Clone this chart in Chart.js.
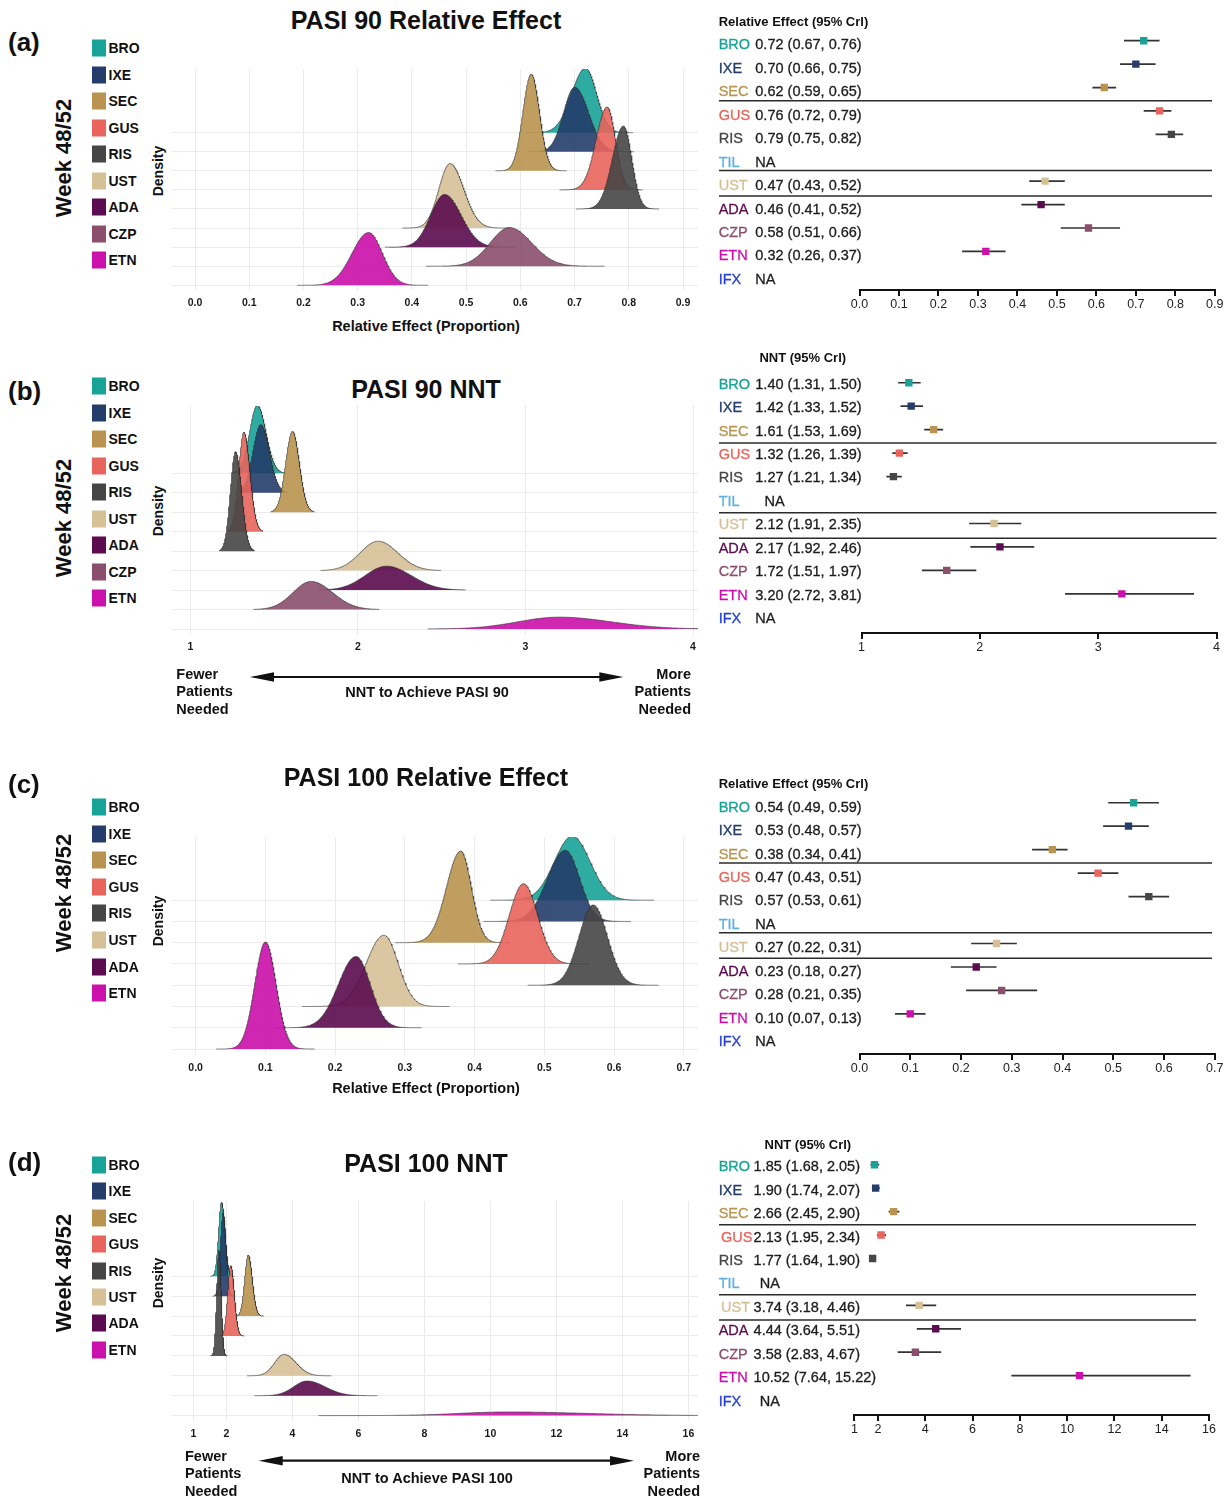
<!DOCTYPE html>
<html lang="en">
<head>
<meta charset="utf-8">
<title>PASI 90 / PASI 100 relative effect and NNT, week 48/52</title>
<script src="https://cdn.jsdelivr.net/npm/chart.js@4.4.1/dist/chart.umd.min.js"></script>
<style>
  html, body { margin: 0; padding: 0; background: #fff; }
  #fig { position: relative; width: 1232px; height: 1499px; overflow: hidden; background: #fff;
         font-family: "Liberation Sans", Arial, Helvetica, sans-serif; color: #111; }
  #fig canvas { position: absolute; }
  .txt { position: absolute; white-space: nowrap; line-height: 1; }
  .mid { transform: translate(-50%, -50%); }
  .vmid { transform: translateY(-50%); }
  .rot { transform: translate(-50%, -50%) rotate(-90deg); }
  .bold { font-weight: bold; }
  .heavy { -webkit-text-stroke: 0.3px currentColor; }
  .swatch { position: absolute; width: 14px; height: 17px; transform: translateY(-50%); }
  .block { position: absolute; white-space: nowrap; font-weight: bold; font-size: 14.5px; line-height: 17.5px; }
</style>
</head>
<body>
<div id="fig"></div>
<script>
// ---------- data ----------
const drugs = ['BRO', 'IXE', 'SEC', 'GUS', 'RIS', 'TIL', 'UST', 'ADA', 'CZP', 'ETN', 'IFX'];

// PASI 90 at week 48/52 — relative effect (proportion): median, lower and upper 95% CrI
const re90Mid  = [0.72, 0.70, 0.62, 0.76, 0.79, null, 0.47, 0.46, 0.58, 0.32, null];
const re90Low  = [0.67, 0.66, 0.59, 0.72, 0.75, null, 0.43, 0.41, 0.51, 0.26, null];
const re90High = [0.76, 0.75, 0.65, 0.79, 0.82, null, 0.52, 0.52, 0.66, 0.37, null];

// PASI 90 at week 48/52 — number needed to treat
const nnt90Mid  = [1.40, 1.42, 1.61, 1.32, 1.27, null, 2.12, 2.17, 1.72, 3.20, null];
const nnt90Low  = [1.31, 1.33, 1.53, 1.26, 1.21, null, 1.91, 1.92, 1.51, 2.72, null];
const nnt90High = [1.50, 1.52, 1.69, 1.39, 1.34, null, 2.35, 2.46, 1.97, 3.81, null];

// PASI 100 at week 48/52 — relative effect (proportion)
const re100Mid  = [0.54, 0.53, 0.38, 0.47, 0.57, null, 0.27, 0.23, 0.28, 0.10, null];
const re100Low  = [0.49, 0.48, 0.34, 0.43, 0.53, null, 0.22, 0.18, 0.21, 0.07, null];
const re100High = [0.59, 0.57, 0.41, 0.51, 0.61, null, 0.31, 0.27, 0.35, 0.13, null];

// PASI 100 at week 48/52 — number needed to treat
const nnt100Mid  = [1.85, 1.90, 2.66, 2.13, 1.77, null, 3.74, 4.44, 3.58, 10.52, null];
const nnt100Low  = [1.68, 1.74, 2.45, 1.95, 1.64, null, 3.18, 3.64, 2.83, 7.64, null];
const nnt100High = [2.05, 2.07, 2.90, 2.34, 1.90, null, 4.46, 5.51, 4.67, 15.22, null];

// treatments shown in the density ridges
const ridgeDrugs90  = ['BRO', 'IXE', 'SEC', 'GUS', 'RIS', 'UST', 'ADA', 'CZP', 'ETN'];
const ridgeDrugs100 = ['BRO', 'IXE', 'SEC', 'GUS', 'RIS', 'UST', 'ADA', 'ETN'];

// axis ticks
const reTicks90   = [0, 0.1, 0.2, 0.3, 0.4, 0.5, 0.6, 0.7, 0.8, 0.9];
const reTicks100  = [0, 0.1, 0.2, 0.3, 0.4, 0.5, 0.6, 0.7];
const nntTicks90  = [1, 2, 3, 4];
const nntTicks100 = [1, 2, 4, 6, 8, 10, 12, 14, 16];

// ---------- styles ----------
const drugColors = {
  BRO: '#17a398', IXE: '#243d6b', SEC: '#b9934f', GUS: '#e8645c', RIS: '#464646',
  TIL: '#5fb0e3', UST: '#d6c096', ADA: '#5b0b4f', CZP: '#8b4e6d', ETN: '#cb10ab', IFX: '#2841d4'
};
const FONT = '"Liberation Sans", Arial, Helvetica, sans-serif';
Chart.defaults.font.family = FONT;

const fmt1 = v => v.toFixed(1);
const fmtInt = v => String(Math.round(v));

// ---------- panel layout ----------
const panels = [
  {
    tag: '(a)', tagY: 42, weekY: 158, title: 'PASI 90 Relative Effect', titleY: 20,
    legendY: 48, legendStep: 26.5, densityY: 171,
    mid: re90Mid, low: re90Low, high: re90High,
    ridgeDrugs: ridgeDrugs90, ridgeTicks: reTicks90, tickFmt: fmt1,
    ridge: { left: 172, right: 698, top: 69, bottom: 290, tickPx: [195, 683], base: 285.3, step: 19.08, scale: 0.1944, tail: 4.3 },
    axisTitle: { text: 'Relative Effect (Proportion)', y: 326 },
    header: { text: 'Relative Effect (95% Crl)', x: 718.7, y: 20.7 },
    forestTicks: reTicks90, forestFmt: fmt1,
    forest: { row0: 40.7, step: 23.45, axisY: 290.4, tickPx: [859.5, 1214.8], textOff: 3.7, valueX: 755.3,
              naX: { TIL: 755.3, IFX: 755.3 }, labelShift: {}, sepEnd: 1212 }
  },
  {
    tag: '(b)', tagY: 391, weekY: 518, title: 'PASI 90 NNT', titleY: 389,
    legendY: 386, legendStep: 26.5, densityY: 511,
    mid: nnt90Mid, low: nnt90Low, high: nnt90High,
    ridgeDrugs: ridgeDrugs90, ridgeTicks: nntTicks90, tickFmt: fmtInt,
    ridge: { left: 172, right: 698, top: 406, bottom: 634, tickPx: [190.3, 693], base: 629, step: 19.46, scale: 0.425, tail: 3.2 },
    arrow: { text: 'NNT to Achieve PASI 90', textY: 691.7, y: 677, x0: 250, x1: 623.3, leftX: 176.3, rightX: 691, linesY: 674.3 },
    header: { text: 'NNT (95% Crl)', x: 759.4, y: 357.3 },
    forestTicks: nntTicks90, forestFmt: fmtInt,
    forest: { row0: 382.3, step: 23.47, axisY: 632.7, tickPx: [861.5, 1216.5], textOff: 1.3, valueX: 755.3,
              naX: { TIL: 764.5, IFX: 755.3 }, labelShift: {}, sepEnd: 1216.5 }
  },
  {
    tag: '(c)', tagY: 784, weekY: 893, title: 'PASI 100 Relative Effect', titleY: 777,
    legendY: 807, legendStep: 26.6, densityY: 921,
    mid: re100Mid, low: re100Low, high: re100High,
    ridgeDrugs: ridgeDrugs100, ridgeTicks: reTicks100, tickFmt: fmt1,
    ridge: { left: 172, right: 698, top: 836.7, bottom: 1055, tickPx: [195.6, 683.8], base: 1049, step: 21.29, scale: 0.193, tail: 4.6 },
    axisTitle: { text: 'Relative Effect (Proportion)', y: 1088.3 },
    header: { text: 'Relative Effect (95% Crl)', x: 718.7, y: 783.3 },
    forestTicks: reTicks100, forestFmt: fmt1,
    forest: { row0: 802.7, step: 23.44, axisY: 1053.7, tickPx: [859.5, 1214.8], textOff: 4, valueX: 755.3,
              naX: { TIL: 755.3, IFX: 755.3 }, labelShift: {}, sepEnd: 1212 }
  },
  {
    tag: '(d)', tagY: 1162, weekY: 1273, title: 'PASI 100 NNT', titleY: 1162.5,
    legendY: 1165, legendStep: 26.4, densityY: 1283,
    mid: nnt100Mid, low: nnt100Low, high: nnt100High,
    ridgeDrugs: ridgeDrugs100, ridgeTicks: nntTicks100, tickFmt: fmtInt,
    ridge: { left: 172, right: 698, top: 1200.7, bottom: 1420.7, tickPx: [193.5, 688.4], base: 1415.3, step: 19.9, scale: 0.882, tail: 3.9 },
    arrow: { text: 'NNT to Achieve PASI 100', textY: 1478, y: 1460.7, x0: 258.7, x1: 634, leftX: 185, rightX: 700, linesY: 1456.7 },
    header: { text: 'NNT (95% Crl)', x: 764.5, y: 1144 },
    forestTicks: nntTicks100, forestFmt: fmtInt,
    forest: { row0: 1164.7, step: 23.44, axisY: 1415, tickPx: [854.4, 1209], textOff: 1.5, valueX: 753.6,
              naX: { TIL: 759.7, IFX: 759.7 }, labelShift: { GUS: 2.4, UST: 2.4 }, sepEnd: 1196 }
  }
];

// separators between treatment groups in the forest tables (row units)
const groupBreaks = [2.565, 5.545, 6.63];

// ---------- helpers ----------
const fig = document.getElementById('fig');

function addText(txt, x, y, cls, style) {
  const el = document.createElement('div');
  el.className = 'txt ' + cls;
  el.textContent = txt;
  el.style.left = x + 'px';
  el.style.top = y + 'px';
  Object.assign(el.style, style || {});
  fig.appendChild(el);
  return el;
}

function makeCanvas(x, y, w, h) {
  const cv = document.createElement('canvas');
  cv.width = Math.round(w);
  cv.height = Math.round(h);
  cv.style.left = x + 'px';
  cv.style.top = y + 'px';
  cv.style.width = Math.round(w) + 'px';
  cv.style.height = Math.round(h) + 'px';
  fig.appendChild(cv);
  return cv;
}

function withAlpha(hex, a) {
  const n = parseInt(hex.slice(1), 16);
  return `rgba(${(n >> 16) & 255},${(n >> 8) & 255},${n & 255},${a})`;
}

// posterior density approximated by a split normal built from the median and 95% CrI
function densityCurve(mid, lo, hi, tail) {
  const sL = (mid - lo) / 1.96, sR = (hi - mid) / 1.96;
  const peak = 2 / ((sL + sR) * Math.sqrt(2 * Math.PI));
  const a = mid - tail * sL, b = mid + tail * sR, N = 200;
  const pts = [];
  for (let i = 0; i <= N; i++) {
    const x = a + (b - a) * i / N;
    const s = x < mid ? sL : sR;
    pts.push({ x, f: peak * Math.exp(-0.5 * ((x - mid) / s) ** 2) });
  }
  return pts;
}

// ---------- ridge (density) plots ----------
function ridgeChart(p) {
  const g = p.ridge;
  const PAD_L = 20, PAD_R = 20, PAD_T = 8, AXIS_H = 26;
  const t0 = p.ridgeTicks[0], t1 = p.ridgeTicks[p.ridgeTicks.length - 1];
  const unit = (g.tickPx[1] - g.tickPx[0]) / (t1 - t0);
  const xMin = t0 - (g.tickPx[0] - g.left) / unit;
  const xMax = t1 + (g.right - g.tickPx[1]) / unit;
  const yMin = -(g.bottom - g.base) / g.step;
  const yMax = (g.base - g.top) / g.step;
  const n = p.ridgeDrugs.length;
  const cv = makeCanvas(g.left - PAD_L, g.top - PAD_T, g.right - g.left + PAD_L + PAD_R, PAD_T + g.bottom - g.top + AXIS_H);

  const datasets = p.ridgeDrugs.map((d, j) => {
    const k = drugs.indexOf(d);
    const base = n - 1 - j;
    return {
      label: d,
      data: densityCurve(p.mid[k], p.low[k], p.high[k], g.tail).map(pt => ({ x: pt.x, y: base + pt.f * g.scale })),
      order: n - j,
      borderColor: 'rgba(45,45,45,0.85)',
      borderWidth: 0.7,
      backgroundColor: withAlpha(drugColors[d], 0.9),
      fill: { value: base },
      pointRadius: 0,
      tension: 0
    };
  });

  new Chart(cv, {
    type: 'line',
    data: { datasets },
    options: {
      responsive: false, animation: false, events: [],
      layout: { padding: { left: PAD_L, right: PAD_R, top: PAD_T, bottom: 0 } },
      plugins: { legend: { display: false }, tooltip: { enabled: false } },
      scales: {
        x: {
          type: 'linear', min: xMin, max: xMax,
          afterBuildTicks: s => { s.ticks = p.ridgeTicks.map(v => ({ value: v })); },
          afterFit: s => { s.height = AXIS_H; },
          ticks: { callback: v => p.tickFmt(v), color: '#1a1a1a', font: { size: 10.5, weight: 'bold' },
                   padding: 7, maxRotation: 0, autoSkip: false },
          grid: { color: '#ebebeb', lineWidth: 1, drawTicks: false },
          border: { display: false }
        },
        y: {
          type: 'linear', min: yMin, max: yMax,
          afterBuildTicks: s => { s.ticks = p.ridgeDrugs.map((d, j) => ({ value: j })); },
          afterFit: s => { s.width = 0; },
          ticks: { display: false },
          grid: { color: '#ebebeb', lineWidth: 1, drawTicks: false },
          border: { display: false }
        }
      }
    }
  });
}

// ---------- forest plots ----------
const separatorPlugin = {
  id: 'rowSeparators',
  afterDatasetsDraw(chart, args, opts) {
    const ys = chart.scales.y, ctx = chart.ctx;
    ctx.save();
    ctx.strokeStyle = '#2b2b2b';
    ctx.lineWidth = 1.5;
    opts.rows.forEach(v => {
      const y = ys.getPixelForValue(v);
      ctx.beginPath();
      ctx.moveTo(opts.x0, y);
      ctx.lineTo(opts.x1, y);
      ctx.stroke();
    });
    ctx.restore();
  }
};

function forestChart(p) {
  const f = p.forest;
  const LEFT = 700, WIDTH = 532, PAD_T = 6, AXIS_H = 28;
  const t = p.forestTicks;
  const chartTop = f.row0 - 0.5 * f.step;
  const cv = makeCanvas(LEFT, chartTop - PAD_T, WIDTH, PAD_T + (f.axisY - chartTop) + AXIS_H);
  const yMax = (f.axisY - f.row0) / f.step;
  const rows = drugs.map((d, i) => i).filter(i => p.mid[i] != null);

  const markers = {
    data: rows.map(i => ({ x: p.mid[i], y: i })),
    pointStyle: 'rect', pointRadius: 5.2,
    pointBackgroundColor: rows.map(i => drugColors[drugs[i]]),
    pointBorderWidth: 0, showLine: false, order: 1
  };
  const bars = rows.map(i => ({
    data: [{ x: p.low[i], y: i }, { x: p.high[i], y: i }],
    showLine: true, borderColor: '#333', borderWidth: 1.7, pointRadius: 0, order: 2
  }));

  new Chart(cv, {
    type: 'scatter',
    data: { datasets: [markers, ...bars] },
    options: {
      responsive: false, animation: false, events: [],
      layout: { padding: { left: f.tickPx[0] - LEFT, right: LEFT + WIDTH - f.tickPx[1], top: PAD_T, bottom: 0 } },
      plugins: {
        legend: { display: false }, tooltip: { enabled: false },
        rowSeparators: { rows: groupBreaks, x0: 719 - LEFT, x1: f.sepEnd - LEFT }
      },
      scales: {
        x: {
          type: 'linear', min: t[0], max: t[t.length - 1],
          afterBuildTicks: s => { s.ticks = t.map(v => ({ value: v })); },
          afterFit: s => { s.height = AXIS_H; },
          ticks: { callback: v => p.forestFmt(v), color: '#222', font: { size: 12.5 }, padding: 1,
                   maxRotation: 0, autoSkip: false },
          grid: { drawOnChartArea: false, drawTicks: true, tickLength: 6, color: '#111', lineWidth: 2 },
          border: { display: true, color: '#111', width: 2 }
        },
        y: { type: 'linear', display: false, reverse: true, min: -0.5, max: yMax }
      }
    },
    plugins: [separatorPlugin]
  });

  // table text: treatment and estimate (95% CrI)
  drugs.forEach((d, i) => {
    const y = f.row0 + i * f.step + f.textOff;
    addText(d, 718.7 + (f.labelShift[d] || 0), y, 'vmid heavy', { color: drugColors[d], fontSize: '14.5px' });
    const has = p.mid[i] != null;
    const val = has ? `${p.mid[i].toFixed(2)} (${p.low[i].toFixed(2)}, ${p.high[i].toFixed(2)})` : 'NA';
    addText(val, has ? f.valueX : f.naX[d], y, 'vmid heavy', { color: '#1c1c1c', fontSize: '14.5px' });
  });
  addText(p.header.text, p.header.x, p.header.y, 'vmid bold', { fontSize: '13px', color: '#111' });
}

// ---------- direction arrow under NNT panels ----------
function addArrow(a) {
  const NS = 'http://www.w3.org/2000/svg';
  const svg = document.createElementNS(NS, 'svg');
  svg.setAttribute('width', 1232);
  svg.setAttribute('height', 1499);
  svg.style.position = 'absolute';
  svg.style.left = '0';
  svg.style.top = '0';
  svg.style.pointerEvents = 'none';
  const head = 24, half = 4.8;
  const line = document.createElementNS(NS, 'line');
  line.setAttribute('x1', a.x0 + head - 2);
  line.setAttribute('x2', a.x1 - head + 2);
  line.setAttribute('y1', a.y);
  line.setAttribute('y2', a.y);
  line.setAttribute('stroke', '#111');
  line.setAttribute('stroke-width', '2.2');
  svg.appendChild(line);
  [[a.x0, 1], [a.x1, -1]].forEach(([tip, dir]) => {
    const poly = document.createElementNS(NS, 'polygon');
    poly.setAttribute('points', `${tip},${a.y} ${tip + dir * head},${a.y - half} ${tip + dir * head},${a.y + half}`);
    poly.setAttribute('fill', '#111');
    svg.appendChild(poly);
  });
  fig.appendChild(svg);

  const left = document.createElement('div');
  left.className = 'block';
  left.style.left = a.leftX + 'px';
  left.style.top = (a.linesY - 8.75) + 'px';
  left.innerHTML = 'Fewer<br>Patients<br>Needed';
  fig.appendChild(left);

  const right = document.createElement('div');
  right.className = 'block';
  right.style.right = (1232 - a.rightX) + 'px';
  right.style.top = (a.linesY - 8.75) + 'px';
  right.style.textAlign = 'right';
  right.innerHTML = 'More<br>Patients<br>Needed';
  fig.appendChild(right);

  addText(a.text, 427, a.textY, 'mid bold', { fontSize: '14.5px' });
}

// ---------- build the figure ----------
panels.forEach(p => {
  addText(p.tag, 8, p.tagY, 'vmid bold', { fontSize: '26px' });
  addText('Week 48/52', 64, p.weekY, 'rot bold', { fontSize: '22px' });
  addText(p.title, 426, p.titleY, 'mid bold', { fontSize: '25px' });
  addText('Density', 158, p.densityY, 'rot bold', { fontSize: '14px' });

  p.ridgeDrugs.forEach((d, j) => {
    const y = p.legendY + j * p.legendStep;
    const sw = document.createElement('div');
    sw.className = 'swatch';
    sw.style.left = '91.7px';
    sw.style.top = y + 'px';
    sw.style.background = drugColors[d];
    fig.appendChild(sw);
    addText(d, 108.5, y, 'vmid bold', { fontSize: '14px' });
  });

  ridgeChart(p);
  if (p.axisTitle) addText(p.axisTitle.text, 426, p.axisTitle.y, 'mid bold', { fontSize: '14.5px' });
  if (p.arrow) addArrow(p.arrow);
  forestChart(p);
});
</script>
</body>
</html>
